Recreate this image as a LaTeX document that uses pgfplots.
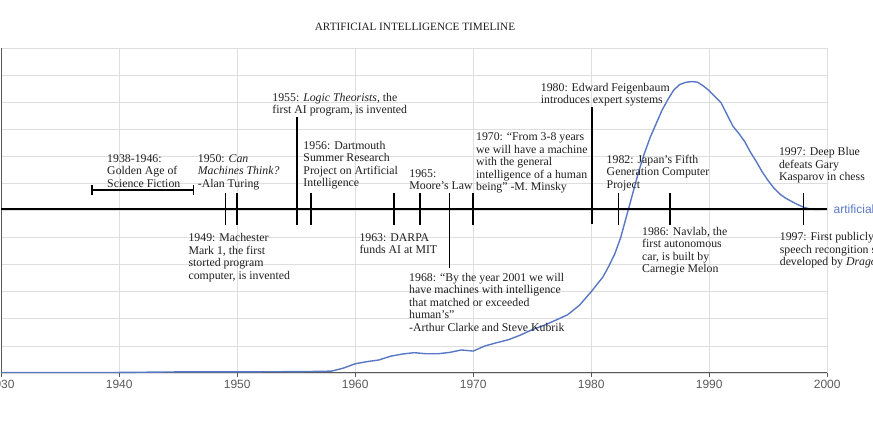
\documentclass[border=0pt]{standalone}
\usepackage{fontspec}
\setmainfont{Liberation Serif}
\setsansfont{Liberation Sans}
\usepackage{pgfplots}
\pgfplotsset{compat=1.18}
\definecolor{ngram}{RGB}{88,120,196}
\definecolor{txt}{RGB}{30,30,30}
\definecolor{gridc}{RGB}{222,222,222}
\newcommand{\af}{\fontsize{11.8}{12.5}\selectfont}
\begin{document}
\begin{tikzpicture}
\begin{axis}[
  at={(0,0)}, anchor=south west, scale only axis,
  width=826pt, height=325pt,
  xmin=1930, xmax=2000, ymin=0, ymax=12,
  axis x line*=bottom, axis y line*=left,
  axis line style={draw=black!65, line width=1pt, -},
  xtick={1930,1940,...,2000}, ytick={0,1,...,12}, yticklabels={},
  grid=major, major grid style={gridc, line width=0.8pt},
  xtick align=outside, major tick length=4pt,
  xtick style={draw=black!65, line width=0.8pt},
  ytick style={draw=none},
  xticklabel style={font=\fontsize{12}{14}\selectfont\sffamily, text=black!65},
  /pgf/number format/1000 sep={},
  /pgf/number format/assume math mode=true,
  clip=false,
  every node/.style={inner sep=0pt},
]
% ngram curve
\addplot[ngram, line width=1.4pt] coordinates {
(1930,0.02) (1940,0.02) (1945,0.04) (1950,0.04) (1955,0.05) (1957,0.06) (1958,0.07)
(1959,0.18) (1960,0.34) (1961,0.42) (1962,0.48) (1963,0.62) (1964,0.7) (1965,0.75)
(1966,0.71) (1967,0.71) (1968,0.76) (1969,0.85) (1970,0.81) (1971,1.0) (1972,1.12)
(1973,1.23) (1974,1.4) (1975,1.6) (1976,1.76) (1977,1.95) (1978,2.15) (1979,2.5)
(1980,3.0) (1981,3.55) (1981.5,3.95) (1982,4.4) (1982.5,5.0) (1983,5.8) (1983.5,6.6)
(1984,7.4) (1984.5,8.1) (1985,8.7) (1985.5,9.2) (1986,9.7) (1986.5,10.1) (1987,10.45)
(1987.5,10.65) (1988,10.73) (1988.5,10.76) (1989,10.74) (1989.5,10.6) (1990,10.42)
(1990.5,10.2) (1991,9.98) (1991.5,9.55) (1992,9.12) (1992.5,8.85) (1993,8.55)
(1993.5,8.15) (1994,7.8) (1994.5,7.42) (1995,7.1) (1995.5,6.82) (1996,6.6)
(1996.5,6.45) (1997,6.33) (1997.5,6.22) (1998,6.12) (1998.5,6.06) (1999,6.04) (2000,6.05)
};
% timeline
\addplot[black, line width=1.6pt, forget plot] coordinates {(1930,6.05) (2000,6.05)};
% short ticks
\addplot[black, line width=1.6pt, forget plot] coordinates {(1949,5.47) (1949,6.64)};
\addplot[black, line width=1.6pt, forget plot] coordinates {(1950,5.47) (1950,6.64)};
\addplot[black, line width=1.6pt, forget plot] coordinates {(1956.25,5.47) (1956.25,6.64)};
\addplot[black, line width=1.6pt, forget plot] coordinates {(1963.3,5.47) (1963.3,6.64)};
\addplot[black, line width=1.6pt, forget plot] coordinates {(1965.5,5.47) (1965.5,6.64)};
\addplot[black, line width=1.6pt, forget plot] coordinates {(1970,5.47) (1970,6.64)};
\addplot[black, line width=1.6pt, forget plot] coordinates {(1982.3,5.47) (1982.3,6.64)};
\addplot[black, line width=1.6pt, forget plot] coordinates {(1986.7,5.47) (1986.7,6.64)};
\addplot[black, line width=1.6pt, forget plot] coordinates {(1998,5.47) (1998,6.64)};
% tall ticks
\addplot[black, line width=1.6pt, forget plot] coordinates {(1955.07,5.47) (1955.07,9.45)};
\addplot[black, line width=1.6pt, forget plot] coordinates {(1980.07,5.5) (1980.07,9.82)};
\addplot[black, line width=1.6pt, forget plot] coordinates {(1968,3.88) (1968,6.64)};
% bracket 1938-1946
\addplot[black, line width=1.4pt, forget plot] coordinates {(1937.7,6.76) (1946.3,6.76)};
\addplot[black, line width=1.4pt, forget plot] coordinates {(1937.7,6.58) (1937.7,6.95)};
\addplot[black, line width=1.4pt, forget plot] coordinates {(1946.3,6.58) (1946.3,6.95)};

\begin{scope}[every node/.style={inner sep=0pt, anchor=north west, align=left, font=\af, text=txt}]
\node at (axis cs:1938.97,8.07) {1938-1946:\\Golden Age of\\Science Fiction};
\node at (axis cs:1946.65,8.08) {1950: \textit{Can}\\\textit{Machines Think?}\\-Alan Turing};
\node at (axis cs:1952.97,10.34) {1955: \textit{Logic Theorists}, the\\first AI program, is invented};
\node at (axis cs:1955.6,8.57) {1956: Dartmouth\\Summer Research\\Project on Artificial\\Intelligence};
\node at (axis cs:1964.58,7.52) {1965:\\Moore’s Law};
\node at (axis cs:1960.35,5.16) {1963: DARPA\\funds AI at MIT};
\node at (axis cs:1970.23,8.87) {1970: “From 3-8 years\\we will have a machine\\with the general\\intelligence of a human\\being” -M. Minsky};
\node at (axis cs:1975.72,10.72) {1980: Edward Feigenbaum\\introduces expert systems};
\node at (axis cs:1981.3,8.05) {1982: Japan’s Fifth\\Generation Computer\\Project};
\node at (axis cs:1995.9,8.33) {1997: Deep Blue\\defeats Gary\\Kasparov in chess};
\node at (axis cs:1984.3,5.40) {1986: Navlab, the\\first autonomous\\car, is built by\\Carnegie Melon};
\node at (axis cs:1995.97,5.20) {1997: First publicly available\\speech recongition software\\developed by \textit{Dragon Systems}};
\node at (axis cs:1945.86,5.16) {1949: Machester\\Mark 1, the first\\storted program\\computer, is invented};
\node at (axis cs:1964.56,3.70) {1968: “By the year 2001 we will\\have machines with intelligence\\that matched or exceeded\\human’s”\\-Arthur Clarke and Steve Kubrik};
\end{scope}
\node[anchor=center, font=\fontsize{11.2}{13}\selectfont, text=txt] at (axis cs:1965.07,12.78) {ARTIFICIAL INTELLIGENCE TIMELINE};
\node[anchor=west, xshift=3pt, font=\fontsize{12}{14}\selectfont\sffamily, text=ngram] at (axis cs:2000,6.05) {artificial};
\end{axis}
\pgfresetboundingbox
\path[use as bounding box] (-1.2pt,-57pt) rectangle (871.8pt,373pt);
\end{tikzpicture}
\end{document}
